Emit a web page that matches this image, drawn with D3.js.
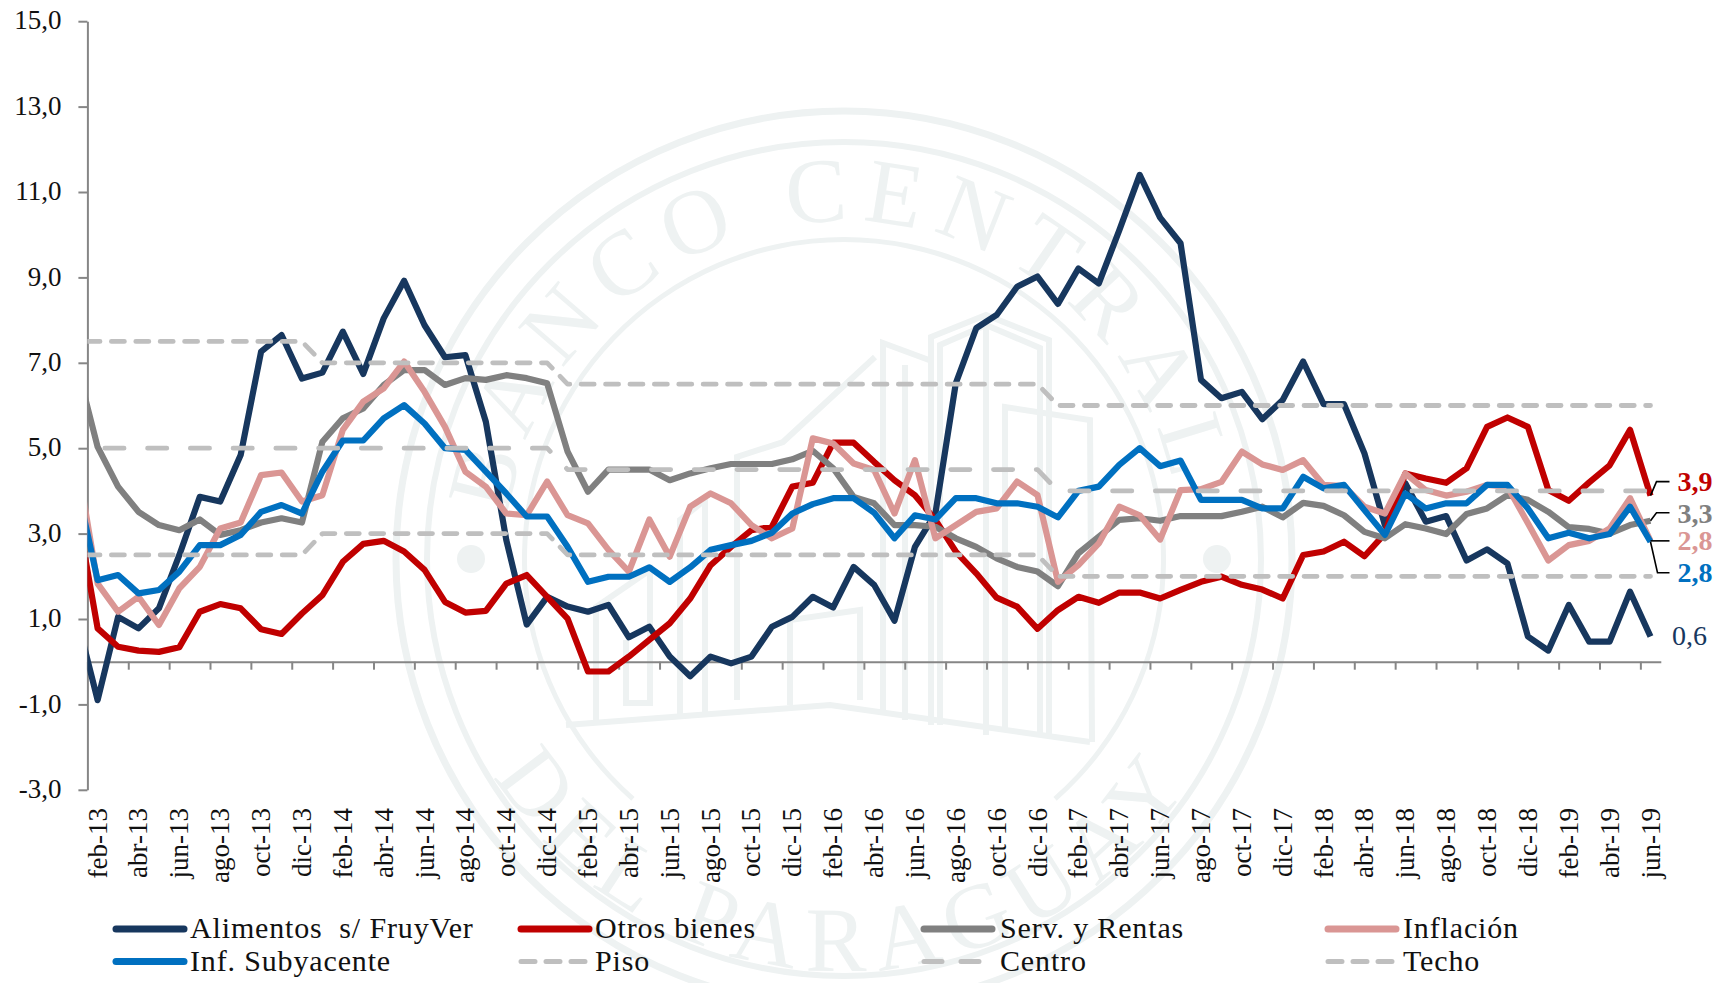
<!doctype html>
<html>
  <head>
    <meta charset="utf-8" />
    <title>Inflacion por componentes</title>
    <style>
      html, body { margin: 0; padding: 0; background: #fff; overflow: hidden; }
      svg { display: block; }
      text { font-family: "Liberation Serif", serif; fill: #111; }
      .axis path, .axis line { stroke: #868686; stroke-width: 2; }
      .seal { fill: none; stroke: #eef2f2; }
    </style>
  </head>
  <body>
    <svg id="chart"></svg>
    <script src="https://d3js.org/d3.v7.min.js"></script>
    <script>
      // ene-13 sits left of the axis and only shows as the clipped line start
      const months = [
        "ene-13","feb-13","mar-13","abr-13","may-13","jun-13","jul-13","ago-13","sep-13","oct-13","nov-13","dic-13",
        "ene-14","feb-14","mar-14","abr-14","may-14","jun-14","jul-14","ago-14","sep-14","oct-14","nov-14","dic-14",
        "ene-15","feb-15","mar-15","abr-15","may-15","jun-15","jul-15","ago-15","sep-15","oct-15","nov-15","dic-15",
        "ene-16","feb-16","mar-16","abr-16","may-16","jun-16","jul-16","ago-16","sep-16","oct-16","nov-16","dic-16",
        "ene-17","feb-17","mar-17","abr-17","may-17","jun-17","jul-17","ago-17","sep-17","oct-17","nov-17","dic-17",
        "ene-18","feb-18","mar-18","abr-18","may-18","jun-18","jul-18","ago-18","sep-18","oct-18","nov-18","dic-18",
        "ene-19","feb-19","mar-19","abr-19","may-19","jun-19"
      ];
      const alimentos = [1.0,
        -0.9,1.05,0.78,1.25,2.5,3.86,3.75,4.84,7.26,7.65,6.63,
        6.77,7.73,6.74,8.04,8.92,7.88,7.13,7.18,5.62,2.85,0.87,1.52,
        1.29,1.17,1.33,0.57,0.82,0.12,-0.34,0.12,-0.04,0.12,0.82,1.05,
        1.52,1.27,2.22,1.8,0.96,2.69,3.47,6.52,7.81,8.12,8.78,9.02,
        8.38,9.21,8.86,10.1,11.4,10.4,9.8,6.6,6.17,6.32,5.68,6.13,
        7.03,6.03,6.03,4.88,3.2,4.18,3.28,3.41,2.37,2.63,2.3,0.59,
        0.26,1.33,0.47,0.47,1.64,0.59];
      const otrosBienes = [3.5,
        0.78,0.35,0.26,0.23,0.34,1.17,1.35,1.25,0.76,0.65,1.13,
        1.56,2.34,2.76,2.83,2.58,2.15,1.4,1.15,1.19,1.83,2.03,1.52,
        1.01,-0.23,-0.23,0.12,0.51,0.9,1.48,2.26,2.69,3.08,3.16,4.1,
        4.19,5.13,5.13,4.68,4.25,3.9,3.32,2.58,2.07,1.5,1.29,0.77,
        1.21,1.52,1.38,1.62,1.62,1.48,1.68,1.87,1.99,1.8,1.69,1.48,
        2.5,2.58,2.81,2.47,3.0,4.41,4.29,4.19,4.53,5.5,5.72,5.5,
        4.02,3.77,4.2,4.6,5.43,3.89];
      const servRentas = [6.9,
        5.03,4.1,3.51,3.2,3.08,3.33,2.97,3.08,3.26,3.36,3.26,
        5.15,5.7,5.93,6.48,6.83,6.83,6.48,6.64,6.6,6.71,6.64,6.52,
        4.92,3.98,4.5,4.5,4.5,4.25,4.41,4.53,4.63,4.63,4.63,4.74,
        4.94,4.53,3.86,3.71,3.2,3.2,3.16,2.89,2.69,2.42,2.22,2.11,
        1.77,2.54,2.93,3.32,3.36,3.3,3.41,3.41,3.41,3.51,3.63,3.38,
        3.72,3.65,3.43,3.04,2.89,3.22,3.12,2.99,3.46,3.59,3.9,3.79,
        3.51,3.15,3.11,3.0,3.2,3.3];
      const inflacion = [4.7,
        1.83,1.17,1.52,0.86,1.72,2.22,3.12,3.26,4.37,4.43,3.75,
        3.9,5.43,6.09,6.4,7.03,6.32,5.5,4.45,4.1,3.47,3.43,4.22,
        3.43,3.24,2.62,2.11,3.33,2.46,3.63,3.94,3.71,3.2,2.89,3.12,
        5.23,5.11,4.64,4.49,3.47,4.72,2.89,3.2,3.51,3.59,4.22,3.9,
        1.87,2.26,2.77,3.63,3.43,2.86,4.02,4.04,4.21,4.92,4.62,4.49,
        4.72,4.14,4.11,3.63,3.47,4.41,4.02,3.89,3.98,4.14,4.1,3.24,
        2.37,2.73,2.83,3.12,3.83,2.83];
      const subyacente = [4.1,
        1.91,2.03,1.6,1.68,2.11,2.73,2.73,2.97,3.51,3.67,3.47,
        4.45,5.18,5.18,5.7,6.01,5.58,5.0,4.96,4.45,3.94,3.4,3.4,
        2.69,1.87,1.99,1.99,2.21,1.87,2.21,2.62,2.73,2.83,3.02,3.47,
        3.69,3.83,3.83,3.49,2.89,3.43,3.33,3.83,3.83,3.71,3.71,3.63,
        3.38,4.0,4.1,4.61,5.0,4.58,4.71,3.79,3.79,3.79,3.59,3.59,
        4.33,4.06,4.14,3.55,2.97,3.94,3.59,3.71,3.71,4.14,4.14,3.59,
        2.89,3.02,2.89,2.99,3.63,2.81];
      const piso = [
        2.5,2.5,2.5,2.5,2.5,2.5,2.5,2.5,2.5,2.5,2.5,2.5,
        3,3,3,3,3,3,3,3,3,3,3,3,
        2.5,2.5,2.5,2.5,2.5,2.5,2.5,2.5,2.5,2.5,2.5,2.5,
        2.5,2.5,2.5,2.5,2.5,2.5,2.5,2.5,2.5,2.5,2.5,2.5,
        2,2,2,2,2,2,2,2,2,2,2,2,
        2,2,2,2,2,2,2,2,2,2,2,2,
        2,2,2,2,2,2];
      const centro = [
        5,5,5,5,5,5,5,5,5,5,5,5,
        5,5,5,5,5,5,5,5,5,5,5,5,
        4.5,4.5,4.5,4.5,4.5,4.5,4.5,4.5,4.5,4.5,4.5,4.5,
        4.5,4.5,4.5,4.5,4.5,4.5,4.5,4.5,4.5,4.5,4.5,4.5,
        4,4,4,4,4,4,4,4,4,4,4,4,
        4,4,4,4,4,4,4,4,4,4,4,4,
        4,4,4,4,4,4];
      const techo = [
        7.5,7.5,7.5,7.5,7.5,7.5,7.5,7.5,7.5,7.5,7.5,7.5,
        7,7,7,7,7,7,7,7,7,7,7,7,
        6.5,6.5,6.5,6.5,6.5,6.5,6.5,6.5,6.5,6.5,6.5,6.5,
        6.5,6.5,6.5,6.5,6.5,6.5,6.5,6.5,6.5,6.5,6.5,6.5,
        6,6,6,6,6,6,6,6,6,6,6,6,
        6,6,6,6,6,6,6,6,6,6,6,6,
        6,6,6,6,6,6];
      const yTicks = [-3,-1,1,3,5,7,9,11,13,15];

      const series = [
        { name: "Alimentos  s/ FruyVer", values: alimentos, color: "#17375e", col: 0, row: 0 },
        { name: "Otros bienes", values: otrosBienes, color: "#c00000", col: 1, row: 0 },
        { name: "Serv. y Rentas", values: servRentas, color: "#808080", col: 2, row: 0 },
        { name: "Inflación", values: inflacion, color: "#da9694", col: 3, row: 0 },
        { name: "Inf. Subyacente", values: subyacente, color: "#0070c0", col: 0, row: 1 },
        { name: "Piso", values: piso, color: "#bfbfbf", col: 1, row: 1, dash: "13 11.4", offset: 14.6 },
        { name: "Centro", values: centro, color: "#bfbfbf", col: 2, row: 1, dash: "19.2 23.55", offset: 15.1 },
        { name: "Techo", values: techo, color: "#bfbfbf", col: 3, row: 1, dash: "13 11.4", offset: 14.6 },
      ];

      const endLabels = [
        { text: "3,9", value: 3.89, color: "#c00000", bold: true, y: 481, leader: [[6, -14], [19, -14]] },
        { text: "3,3", value: 3.3, color: "#808080", bold: true, y: 513, leader: [[6, -8], [19, -8]] },
        { text: "2,8", value: 2.83, color: "#da9694", bold: true, y: 540, leader: [[19, 0]] },
        { text: "2,8", value: 2.81, color: "#0070c0", bold: true, y: 572, leader: [[7, 31], [19, 31]] },
        { text: "0,6", value: 0.59, color: "#17375e", bold: false, y: 635.5 },
      ];

      const width = 1727;
      const height = 983;
      const plotLeft = 87.4;
      const plotRight = 1660.8;

      const svg = d3.select("#chart").attr("width", width).attr("height", height);

      const x = d3.scalePoint().domain(months).range([77.2, 1650.5]);
      const y = d3.scaleLinear().domain([-3, 15]).range([789.8, 21.2]);

      // seal watermark behind the chart
      const sealX = 844;
      const sealY = 559;
      const seal = svg.append("g").attr("class", "seal");
      seal.append("circle").attr("cx", sealX).attr("cy", sealY).attr("r", 448).attr("stroke-width", 7);
      seal.append("circle").attr("cx", sealX).attr("cy", sealY).attr("r", 417).attr("stroke-width", 6);
      const innerRing = d3.arc().innerRadius(317).outerRadius(322).startAngle(-2.42).endAngle(2.42);
      seal.append("path").attr("transform", `translate(${sealX},${sealY})`).attr("d", innerRing()).attr("fill", "#eef2f2").attr("stroke", "none");
      [-373, 373].forEach((dx) => {
        seal.append("circle").attr("cx", sealX + dx).attr("cy", sealY).attr("r", 14).attr("fill", "#eef2f2").attr("stroke", "none");
      });

      const sealTop = 338;
      const sealBottom = 412;
      const defs = svg.append("defs");
      defs.append("path").attr("id", "seal-top")
        .attr("d", `M${sealX - sealTop},${sealY} A${sealTop},${sealTop} 0 0 1 ${sealX + sealTop},${sealY}`);
      defs.append("path").attr("id", "seal-bottom")
        .attr("d", `M${sealX - sealBottom},${sealY} A${sealBottom},${sealBottom} 0 0 0 ${sealX + sealBottom},${sealY}`);
      defs.append("clipPath").attr("id", "plot-clip").append("rect")
        .attr("x", plotLeft).attr("y", 0).attr("width", width).attr("height", height);

      const sealText = (id, label, size, spacing, at) => {
        svg.append("text").attr("font-size", size).attr("letter-spacing", spacing)
          .style("fill", "#eef2f2").attr("text-anchor", "middle")
          .append("textPath").attr("href", "#" + id).attr("startOffset", at).text(label);
      };
      sealText("seal-top", "BANCO CENTRAL", 92, 14, "49%");
      sealText("seal-bottom", "DEL PARAGUAY", 92, 12, "50%");

      const building = [
        [[883, 713], [883, 343], [929, 360]],
        [[905, 720], [905, 365]],
        [[931, 725], [931, 337], [986, 315], [1049, 340], [1049, 735]],
        [[940, 725], [940, 345], [986, 325], [1040, 348], [1040, 735]],
        [[986, 315], [986, 735]],
        [[1005, 730], [1005, 407], [1090, 420], [1092, 742]],
        [[737, 700], [737, 457], [783, 442], [875, 357]],
        [[596, 722], [596, 607], [650, 570], [650, 703], [626, 703], [626, 640]],
        [[566, 725], [830, 705], [1090, 742]],
        [[680, 715], [680, 520], [705, 500], [705, 712]],
        [[790, 705], [790, 620], [860, 610], [860, 700]],
      ];
      const buildingLine = d3.line();
      seal.selectAll("path.bldg").data(building).enter().append("path")
        .attr("class", "bldg").attr("stroke-width", 6).attr("d", buildingLine);

      // axes
      const yAxis = d3.axisLeft(y).tickValues(yTicks).tickSize(9).tickSizeOuter(0).tickPadding(17)
        .tickFormat((d) => d.toFixed(1).replace(".", ","));
      const yg = svg.append("g").attr("class", "axis").attr("transform", `translate(${plotLeft},0)`).call(yAxis);
      yg.selectAll("text").attr("font-size", 27).attr("font-family", "Liberation Serif").attr("y", -1).style("fill", "#111");

      const tickScale = d3.scaleLinear().domain([0, 77]).range([plotLeft, plotRight]);
      const tickPositions = months.slice(1).map((d, i) => i).filter((i) => i % 2 === 0);
      const zeroAxis = d3.axisBottom(tickScale).tickValues(tickPositions).tickSize(8).tickSizeOuter(0).tickFormat("");
      svg.append("g").attr("class", "axis").attr("transform", `translate(0,${y(0)})`).call(zeroAxis);

      const labelMonths = months.slice(1).filter((d, i) => i % 2 === 0);
      const xLabels = d3.axisBottom(x).tickValues(labelMonths).tickSize(0).tickPadding(0);
      const xg = svg.append("g").attr("transform", "translate(0,808)").call(xLabels);
      xg.select(".domain").remove();
      xg.selectAll("text")
        .attr("transform", "rotate(-90)")
        .attr("x", 0).attr("y", 0).attr("dy", 8.5)
        .attr("text-anchor", "end")
        .attr("font-size", 27).attr("font-family", "Liberation Serif")
        .style("fill", "#111");

      // lines
      const line = d3.line().x((d, i) => x(months[i])).y((d) => y(d));
      svg.append("g").attr("clip-path", "url(#plot-clip)")
        .selectAll("path").data(series).enter().append("path")
        .attr("d", (d) => line(d.values))
        .attr("fill", "none")
        .attr("stroke", (d) => d.color)
        .attr("stroke-width", (d) => (d.dash ? 4.8 : 6.2))
        .attr("stroke-linejoin", "round")
        .attr("stroke-linecap", (d) => (d.dash ? "round" : "butt"))
        .attr("stroke-dasharray", (d) => d.dash || null)
        .attr("stroke-dashoffset", (d) => d.offset || null);

      // last value labels and their leaders
      const lastX = x(months[months.length - 1]);
      endLabels.forEach((d) => {
        const px = lastX;
        const py = y(d.value);
        if (d.leader) {
          const pts = [[px, py]].concat(d.leader.map((p) => [px + p[0], py + p[1]]));
          svg.append("path").attr("d", d3.line()(pts)).attr("fill", "none").attr("stroke", "#000").attr("stroke-width", 1.6);
        }
        svg.append("text")
          .attr("x", d.bold ? 1695 : 1689.5).attr("y", d.y).attr("dy", "0.34em")
          .attr("text-anchor", "middle").attr("font-size", 28)
          .attr("font-weight", d.bold ? "bold" : "normal")
          .style("fill", d.color).text(d.text);
      });

      // legend
      const legendCols = [113, 518, 921, 1325];
      const legendRows = [929, 961.5];
      const legend = svg.append("g").selectAll("g").data(series).enter().append("g")
        .attr("transform", (d) => `translate(${legendCols[d.col]},${legendRows[d.row]})`);
      legend.append("line")
        .attr("x1", 3).attr("x2", 71)
        .attr("stroke", (d) => d.color)
        .attr("stroke-width", (d) => (d.dash ? 5 : 7))
        .attr("stroke-linecap", "round")
        .attr("stroke-dasharray", (d) => (d.dash ? (d.name === "Centro" ? "18 19" : "14 11") : null));
      legend.append("text")
        .attr("x", (d) => (d.col === 2 ? 79 : d.col === 3 ? 78 : 77))
        .attr("dy", "0.3em")
        .attr("font-size", 30).attr("letter-spacing", 0.85)
        .style("white-space", "pre")
        .text((d) => d.name);
    </script>
  </body>
</html>
